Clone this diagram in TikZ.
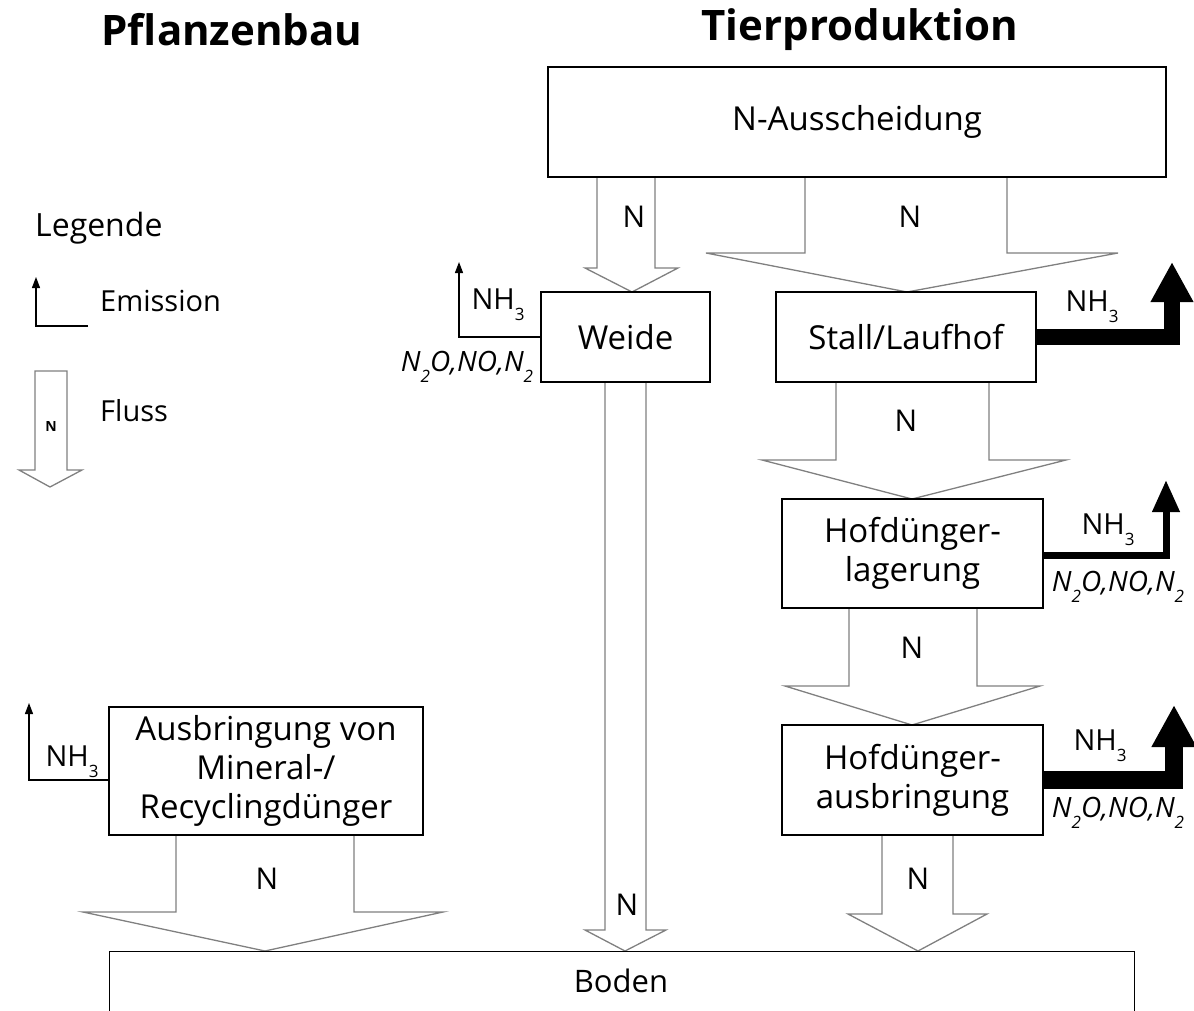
\documentclass[tikz,border=0pt]{standalone}
\usepackage{fontspec}
\setmainfont{Open Sans}
\usetikzlibrary{arrows.meta,calc}
\newcommand\lowsub[1]{\raisebox{-0.38em}{\fontsize{17}{17}\selectfont #1}}
\begin{document}
\begin{tikzpicture}[x=1pt,y=-1pt,
  box/.style={draw=black,line width=1.2pt,fill=white,align=center,inner sep=0pt,
    font=\fontsize{33}{39}\selectfont},
  flow/.style={draw=black!50,line width=1.3pt,fill=white,line join=miter},
  lbl/.style={font=\fontsize{30}{34}\selectfont,inner sep=0pt},
  emi/.style={font=\fontsize{29}{34}\selectfont,inner sep=0pt},
  gas/.style={font=\itshape\fontsize{28}{32}\selectfont,inner sep=0pt},
  thin/.style={draw=black,line width=1.3pt,-{Triangle[width=8pt,length=11pt]}},
  title/.style={font=\bfseries\fontsize{42}{48}\selectfont,inner sep=0pt}
]
\useasboundingbox (0,0) rectangle (1194,1011);
% titles
\node[title] (t1) at (232,30) {Pflanzenbau};
\node[title] (t2) at (860,30) {Tierproduktion};
% flow arrows (drawn first)
\draw[flow] (597,177) -- (597,268) -- (585,268) -- (632,292) -- (678,268) -- (655,268) -- (655,177);
\draw[flow] (805,177) -- (805,253) -- (706,253) -- (907,292) -- (1118,253) -- (1007,253) -- (1007,177);
\draw[flow] (836,382) -- (836,460) -- (762,460) -- (912,499) -- (1066,460) -- (989,460) -- (989,382);
\draw[flow] (849,608) -- (849,686) -- (785,686) -- (912,725) -- (1040,686) -- (977,686) -- (977,608);
\draw[flow] (882,835) -- (882,914) -- (848,914) -- (918,951) -- (987,914) -- (953,914) -- (953,835);
\draw[flow] (605,382) -- (605,930) -- (585,930) -- (625,951) -- (666,930) -- (646,930) -- (646,382);
\draw[flow] (176,835) -- (176,912) -- (83,912) -- (265,951) -- (443,912) -- (354,912) -- (354,835);
% boxes
\node[box,minimum width=618pt,minimum height=110pt] (aus) at (857,122) {N-Ausscheidung};
\node[box,minimum width=169pt,minimum height=90pt] (weide) at (625.5,337) {Weide};
\node[box,minimum width=260pt,minimum height=90pt] (stall) at (906,337) {Stall/Laufhof};
\node[box,minimum width=261pt,minimum height=109pt] (lag) at (912.5,553.5) {Hofdünger-\\lagerung};
\node[box,minimum width=261pt,minimum height=110pt] (ausb) at (912.5,780) {Hofdünger-\\ausbringung};
\node[box,minimum width=314pt,minimum height=128pt] (min) at (266,771) {Ausbringung von\\Mineral-/\\Recyclingdünger};
\node[box,minimum width=1025pt,minimum height=70pt,anchor=north west] (boden) at (109,951) {};
\node[font=\fontsize{31}{34}\selectfont,inner sep=0pt] (bodentxt) at (621,981) {Boden};
% N labels
\node[lbl] (n1) at (634,217) {N};
\node[lbl] (n2) at (910,217) {N};
\node[lbl] (n3) at (906,421) {N};
\node[lbl] (n4) at (912,648) {N};
\node[lbl] (n5) at (918,879) {N};
\node[lbl] (n6) at (627,905) {N};
\node[lbl] (n7) at (267,879) {N};
% emissions
\coordinate (we1) at (459,337);
\coordinate (we2) at (459,262);
\draw[thin] (weide.west) -- (we1) -- (we2);
\node[emi] (nh1) at (498,305) {NH\lowsub{3}};
\node[gas] (g1) at (467,367) {N\lowsub{2}O,NO,N\lowsub{2}};

\coordinate (st1) at (1172,337);
\coordinate (st2) at (1172,262);
\draw[line width=16pt,line join=miter,-{Triangle[width=40pt,length=40pt]}] (stall.east) -- (st1) -- (st2);
\node[emi] (nh2) at (1092,307) {NH\lowsub{3}};

\coordinate (la1) at (1166,555);
\coordinate (la2) at (1166,480);
\draw[line width=7pt,line join=miter,-{Triangle[width=26pt,length=32pt]}] (lag.east |- la1) -- (la1) -- (la2);
\node[emi] (nh3) at (1108,530) {NH\lowsub{3}};
\node[gas] (g2) at (1118,587) {N\lowsub{2}O,NO,N\lowsub{2}};

\coordinate (ab1) at (1174,780);
\coordinate (ab2) at (1174,705);
\draw[line width=18pt,line join=miter,-{Triangle[width=42pt,length=42pt]}] (ausb.east) -- (ab1) -- (ab2);
\node[emi] (nh4) at (1100,746) {NH\lowsub{3}};
\node[gas] (g3) at (1118,813) {N\lowsub{2}O,NO,N\lowsub{2}};

\coordinate (mi1) at (29,780);
\coordinate (mi2) at (29,703);
\draw[thin] (min.west |- mi1) -- (mi1) -- (mi2);
\node[emi] (nh5) at (72,762) {NH\lowsub{3}};

% legend
\node[font=\fontsize{32}{36}\selectfont,inner sep=0pt,anchor=west] (leg) at (35,228) {Legende};
\coordinate (le1) at (88,326);
\coordinate (le2) at (36,326);
\coordinate (le3) at (36,277);
\draw[thin] (le1) -- (le2) -- (le3);
\node[emi,anchor=west] (em) at (100,301) {Emission};
\draw[flow] (35,371) -- (35,470) -- (19,470) -- (50,487) -- (82,470) -- (67,470) -- (67,371) -- cycle;
\node[font=\bfseries\fontsize{14}{15}\selectfont,inner sep=0pt] (ln) at (51,427) {N};
\node[emi,anchor=west] (fl) at (100,411) {Fluss};
\end{tikzpicture}
\end{document}
